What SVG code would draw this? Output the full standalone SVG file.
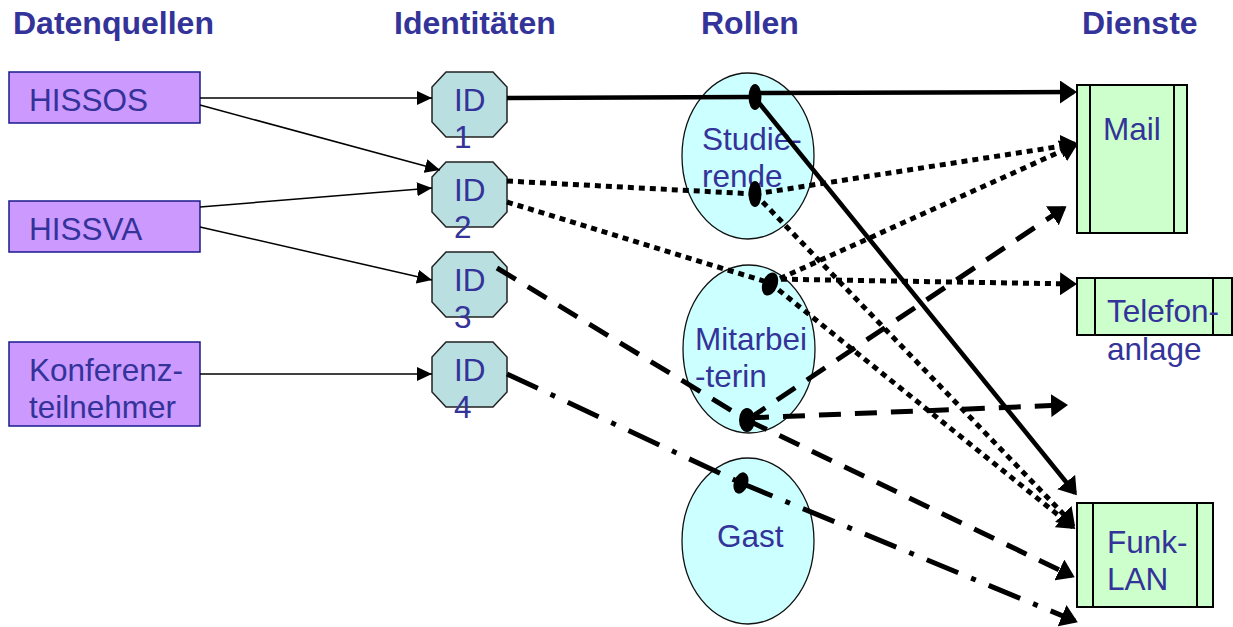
<svg xmlns="http://www.w3.org/2000/svg" width="1233" height="627" viewBox="0 0 1233 627">
<defs>
<style>
text{font-family:"Liberation Sans",Arial,sans-serif;font-size:31.5px;fill:#333399}
.hdr{font-weight:bold;font-size:32px}
.src{fill:#CC99FF;stroke:#1a1a8c;stroke-width:1.5}
.oct{fill:#BADFE1;stroke:#222;stroke-width:1.5}
.role{fill:#CCFFFF;stroke:#111;stroke-width:1.3}
.svc{fill:#CCFFCC;stroke:#000;stroke-width:2}
.inner{stroke:#000;stroke-width:2}
.thin{fill:none;stroke:#000;stroke-width:1.5;marker-end:url(#ah)}
.solid{fill:none;stroke:#000;stroke-width:4.5}
.dot{fill:none;stroke:#000;stroke-width:5;stroke-dasharray:6 5}
.dash{fill:none;stroke:#000;stroke-width:5;stroke-dasharray:22 14}
.dashdot{fill:none;stroke:#000;stroke-width:5;stroke-dasharray:34 14 5 14}
.arr{marker-end:url(#big)}
.blob{fill:#000}
</style>
<marker id="ah" markerUnits="userSpaceOnUse" markerWidth="15" markerHeight="14" refX="15" refY="7" orient="auto"><path d="M0,0 L15,7 L0,14 Z" fill="#000"/></marker>
<marker id="big" markerUnits="userSpaceOnUse" markerWidth="17" markerHeight="23" refX="14" refY="11.5" orient="auto"><path d="M0,0 L17,11.5 L0,23 Z" fill="#000"/></marker>
</defs>
<rect width="1233" height="627" fill="#fff"/>
<g id="headers">
<text class="hdr" x="13" y="34">Datenquellen</text>
<text class="hdr" x="394" y="34">Identitäten</text>
<text class="hdr" x="701" y="34">Rollen</text>
<text class="hdr" x="1082" y="34">Dienste</text>
</g>
<g id="src-hissos"><rect class="src" x="9" y="72" width="191" height="51"/><text x="29" y="111">HISSOS</text></g>
<g id="src-hissva"><rect class="src" x="9" y="201" width="191" height="51"/><text x="29" y="240">HISSVA</text></g>
<g id="src-konferenz"><rect class="src" x="9" y="342" width="191" height="84"/><text x="29" y="381">Konferenz-</text><text x="29" y="418">teilnehmer</text></g>
<g id="id1"><polygon class="oct" points="446,72 493,72 507,87 507,122 493,137 446,137 432,122 432,87"/><text x="454" y="111">ID</text><text x="454" y="148">1</text></g>
<g id="id2"><polygon class="oct" points="446,162 493,162 507,177 507,212 493,227 446,227 432,212 432,177"/><text x="454" y="201">ID</text><text x="454" y="238">2</text></g>
<g id="id3"><polygon class="oct" points="446,252 493,252 507,267 507,302 493,317 446,317 432,302 432,267"/><text x="454" y="291">ID</text><text x="454" y="328">3</text></g>
<g id="id4"><polygon class="oct" points="446,342 493,342 507,357 507,392 493,407 446,407 432,392 432,357"/><text x="454" y="381">ID</text><text x="454" y="418">4</text></g>
<g id="role-studierende"><ellipse class="role" cx="748" cy="156" rx="66" ry="83"/><text x="702" y="150">Studie-</text><text x="702" y="187">rende</text></g>
<g id="role-mitarbeiterin"><ellipse class="role" cx="749" cy="349" rx="66" ry="84"/><text x="695" y="350">Mitarbei</text><text x="695" y="387">-terin</text></g>
<g id="role-gast"><ellipse class="role" cx="748" cy="541" rx="66" ry="83"/><text x="717" y="547">Gast</text></g>
<g id="svc-mail"><rect class="svc" x="1077" y="85" width="110" height="148"/><line class="inner" x1="1090" y1="85" x2="1090" y2="233"/><line class="inner" x1="1174" y1="85" x2="1174" y2="233"/><text x="1103" y="140">Mail</text></g>
<g id="svc-telefon"><rect class="svc" x="1077" y="278" width="155" height="57"/><line class="inner" x1="1095" y1="278" x2="1095" y2="335"/><line class="inner" x1="1213" y1="278" x2="1213" y2="335"/><text x="1107" y="322">Telefon-</text><text x="1107" y="360">anlage</text></g>
<g id="svc-funklan"><rect class="svc" x="1077" y="503" width="136" height="104"/><line class="inner" x1="1093" y1="503" x2="1093" y2="607"/><line class="inner" x1="1197" y1="503" x2="1197" y2="607"/><text x="1107" y="553">Funk-</text><text x="1107" y="590">LAN</text></g>
<g id="connectors">
<path class="thin" d="M200,98 L432,98"/>
<path class="thin" d="M200,105 L440,170"/>
<path class="thin" d="M200,207 L432,188"/>
<path class="thin" d="M200,227 L432,280"/>
<path class="thin" d="M200,374 L432,374"/>
<path class="solid" stroke-width="5.5" d="M507,98 L752,97"/>
<path class="solid arr" stroke-width="5.5" d="M758,93 L1074,92"/>
<path class="solid arr" d="M755,98 L1075,493"/>
<path class="dot" d="M507,181 L755,194"/>
<path class="dot arr" d="M755,194 L1075,144"/>
<path class="dot arr" d="M755,194 L1073,524"/>
<path class="dot" d="M507,202 L770,283"/>
<path class="dot arr" d="M770,279 L1074,284"/>
<path class="dot arr" d="M770,283 L1075,145"/>
<path class="dot arr" d="M770,283 L1073,527"/>
<path class="dash" d="M497,268 L747,420"/>
<path class="dash arr" d="M747,420 L1064,208"/>
<path class="dash arr" d="M747,418 L1065,405"/>
<path class="dash arr" d="M747,420 L1072,576"/>
<path class="dashdot" d="M507,374 L741,483"/>
<path class="dashdot arr" d="M741,483 L1075,621"/>
</g>
<g id="junctions">
<ellipse class="blob" cx="755" cy="97" rx="6.5" ry="13"/>
<ellipse class="blob" cx="755" cy="194" rx="6.5" ry="13"/>
<ellipse class="blob" cx="770" cy="284" rx="7.5" ry="12" transform="rotate(20 770 284)"/>
<ellipse class="blob" cx="747" cy="420" rx="8" ry="12"/>
<ellipse class="blob" cx="741" cy="483" rx="7" ry="11" transform="rotate(20 741 483)"/>
</g>
</svg>
